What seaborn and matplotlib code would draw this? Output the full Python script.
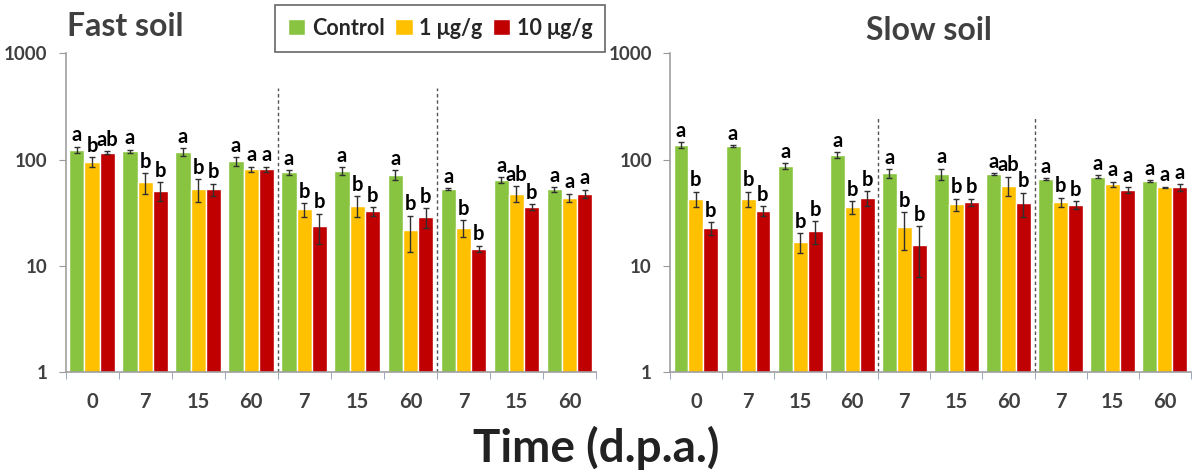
import pandas as pd
import seaborn as sb
import matplotlib.pyplot as plt
from matplotlib.ticker import FixedLocator, NullLocator, FixedFormatter

# time points (d.p.a.) for the 10 sampling slots, and the three treatments
times = ['0', '7', '15', '60', '7', '15', '60', '7', '15', '60']
doses = ['Control', '1 μg/g', '10 μg/g']
colors = ['#88C440', '#FFC000', '#C00000']

# Fast soil
fast_control = [124, 120, 118, 97, 76, 78, 72, 52.5, 64, 52.5]
fast_control_err = [8, 4, 10, 9, 4, 7, 8, 1, 4, 2.5]
fast_low = [95, 61, 52.6, 81, 34, 37, 21.6, 22.9, 48, 44]
fast_low_err = [10, 14, 13, 5, 5, 8, 8, 4, 8, 4]
fast_high = [116, 51, 52.6, 81, 23.5, 32.8, 28.8, 14.5, 35.8, 48]
fast_high_err = [4, 10, 7, 5, 7.5, 3, 6, 1, 2.5, 4]
fast_letters_control = ['a'] * 10
fast_letters_low = ['b', 'b', 'b', 'a', 'b', 'b', 'b', 'b', 'ab', 'a']
fast_letters_high = ['ab', 'b', 'b', 'a', 'b', 'b', 'b', 'b', 'b', 'a']

# Slow soil
slow_control = [137, 134, 87, 111, 74.5, 73, 73, 66, 69, 63]
slow_control_err = [8, 2, 5, 7, 7, 9, 2, 1, 2, 1]
slow_low = [43, 43, 16.8, 35.6, 23, 38, 57, 40, 58.8, 54.7]
slow_low_err = [7, 7, 3.5, 5, 9, 5, 12, 4, 3, 1]
slow_high = [22.7, 33, 21.2, 43.5, 15.8, 40, 39, 37.4, 52, 54.7]
slow_high_err = [3, 3.5, 5, 7, 8, 3, 10, 3, 3, 4]
slow_letters_control = ['a'] * 10
slow_letters_low = ['b', 'b', 'b', 'b', 'b', 'b', 'ab', 'b', 'a', 'a']
slow_letters_high = ['b', 'b', 'b', 'b', 'b', 'b', 'b', 'b', 'a', 'a']

sb.set_style('white')
plt.rcParams['font.family'] = ['Lato', 'DejaVu Sans']
grey = '#404040'


def make_df(ctrl, low, high):
    rows = []
    for dose, vals in zip(doses, [ctrl, low, high]):
        for i, v in enumerate(vals):
            rows.append({'slot': i, 'dose': dose, 'value': v})
    return pd.DataFrame(rows)


def draw_panel(ax, df, errs, letters, sep_top):
    ax.set_yscale('log')
    sb.barplot(data=df, x='slot', y='value', hue='dose', hue_order=doses,
               palette=colors, errorbar=None, width=0.86, saturation=1,
               ax=ax, legend=False)
    ax.set_ylim(1, 1000)

    for cont, err, lab in zip(ax.containers, errs, letters):
        xs = [p.get_x() + p.get_width() / 2 for p in cont.patches]
        hs = [p.get_height() for p in cont.patches]
        ax.errorbar(xs, hs, yerr=err, fmt='none', ecolor='#303030',
                    elinewidth=1, capsize=2.5, capthick=1)
        for x, h, e, t in zip(xs, hs, err, lab):
            ax.annotate(t, (x, h + e), xytext=(0, 1), textcoords='offset points',
                        ha='center', va='bottom', fontsize=14.5,
                        fontweight='bold', color='black')

    for xsep in [3.5, 6.5]:
        ax.axvline(xsep, ymin=0, ymax=sep_top, color='#555555', lw=1,
                   ls=(0, (2.5, 2)))

    ax.yaxis.set_major_locator(FixedLocator([1, 10, 100, 1000]))
    ax.yaxis.set_major_formatter(FixedFormatter(['1', '10', '100', '1000']))
    ax.yaxis.set_minor_locator(NullLocator())
    ax.set_xticks(range(len(times)))
    ax.set_xticklabels(times)
    ax.set_xticks([i - 0.5 for i in range(len(times) + 1)], minor=True)
    ax.tick_params(axis='x', which='major', length=0, pad=14,
                   labelsize=14.5, labelcolor=grey)
    ax.tick_params(axis='x', which='minor', length=5, color='#8a9ab0',
                   direction='out', bottom=True)
    ax.tick_params(axis='y', which='major', length=5, color='#999999',
                   labelsize=13.5, labelcolor=grey, left=True, pad=8)
    for lbl in ax.get_xticklabels() + ax.get_yticklabels():
        lbl.set_fontweight('bold')
    ax.set_xlim(-0.5, len(times) - 0.5)
    ax.set_xlabel('')
    ax.set_ylabel('')
    sb.despine(ax=ax)
    for s in ['left', 'bottom']:
        ax.spines[s].set_color('#a0a0a0')
        ax.spines[s].set_linewidth(1.2)


fig = plt.figure(figsize=(11.92, 4.76), dpi=100)
ax1 = fig.add_axes([0.055, 0.218, 0.445, 0.67])
ax2 = fig.add_axes([0.562, 0.218, 0.437, 0.67])

draw_panel(ax1, make_df(fast_control, fast_low, fast_high),
           [fast_control_err, fast_low_err, fast_high_err],
           [fast_letters_control, fast_letters_low, fast_letters_high], 0.89)
draw_panel(ax2, make_df(slow_control, slow_low, slow_high),
           [slow_control_err, slow_low_err, slow_high_err],
           [slow_letters_control, slow_letters_low, slow_letters_high], 0.80)

fig.text(0.056, 0.925, 'Fast soil', fontsize=23, fontweight='bold', color=grey)
fig.text(0.779, 0.915, 'Slow soil', fontsize=23, fontweight='bold', color=grey,
         ha='center')
fig.text(0.5, 0.03, 'Time (d.p.a.)', fontsize=33, fontweight='bold',
         color='#222222', ha='center')

handles = ax1.containers[:3]
leg = fig.legend(handles, doses, loc='upper left', bbox_to_anchor=(0.231, 0.99),
                 borderaxespad=0, ncol=3, frameon=True, fancybox=False,
                 fontsize=15.5, handlelength=0.8, handleheight=0.8,
                 handletextpad=0.3, columnspacing=0.5, borderpad=0.6,
                 edgecolor='#404040')
leg.get_frame().set_linewidth(1.2)
for t in leg.get_texts():
    t.set_fontweight('bold')

fig.savefig('out.png', dpi=100)
